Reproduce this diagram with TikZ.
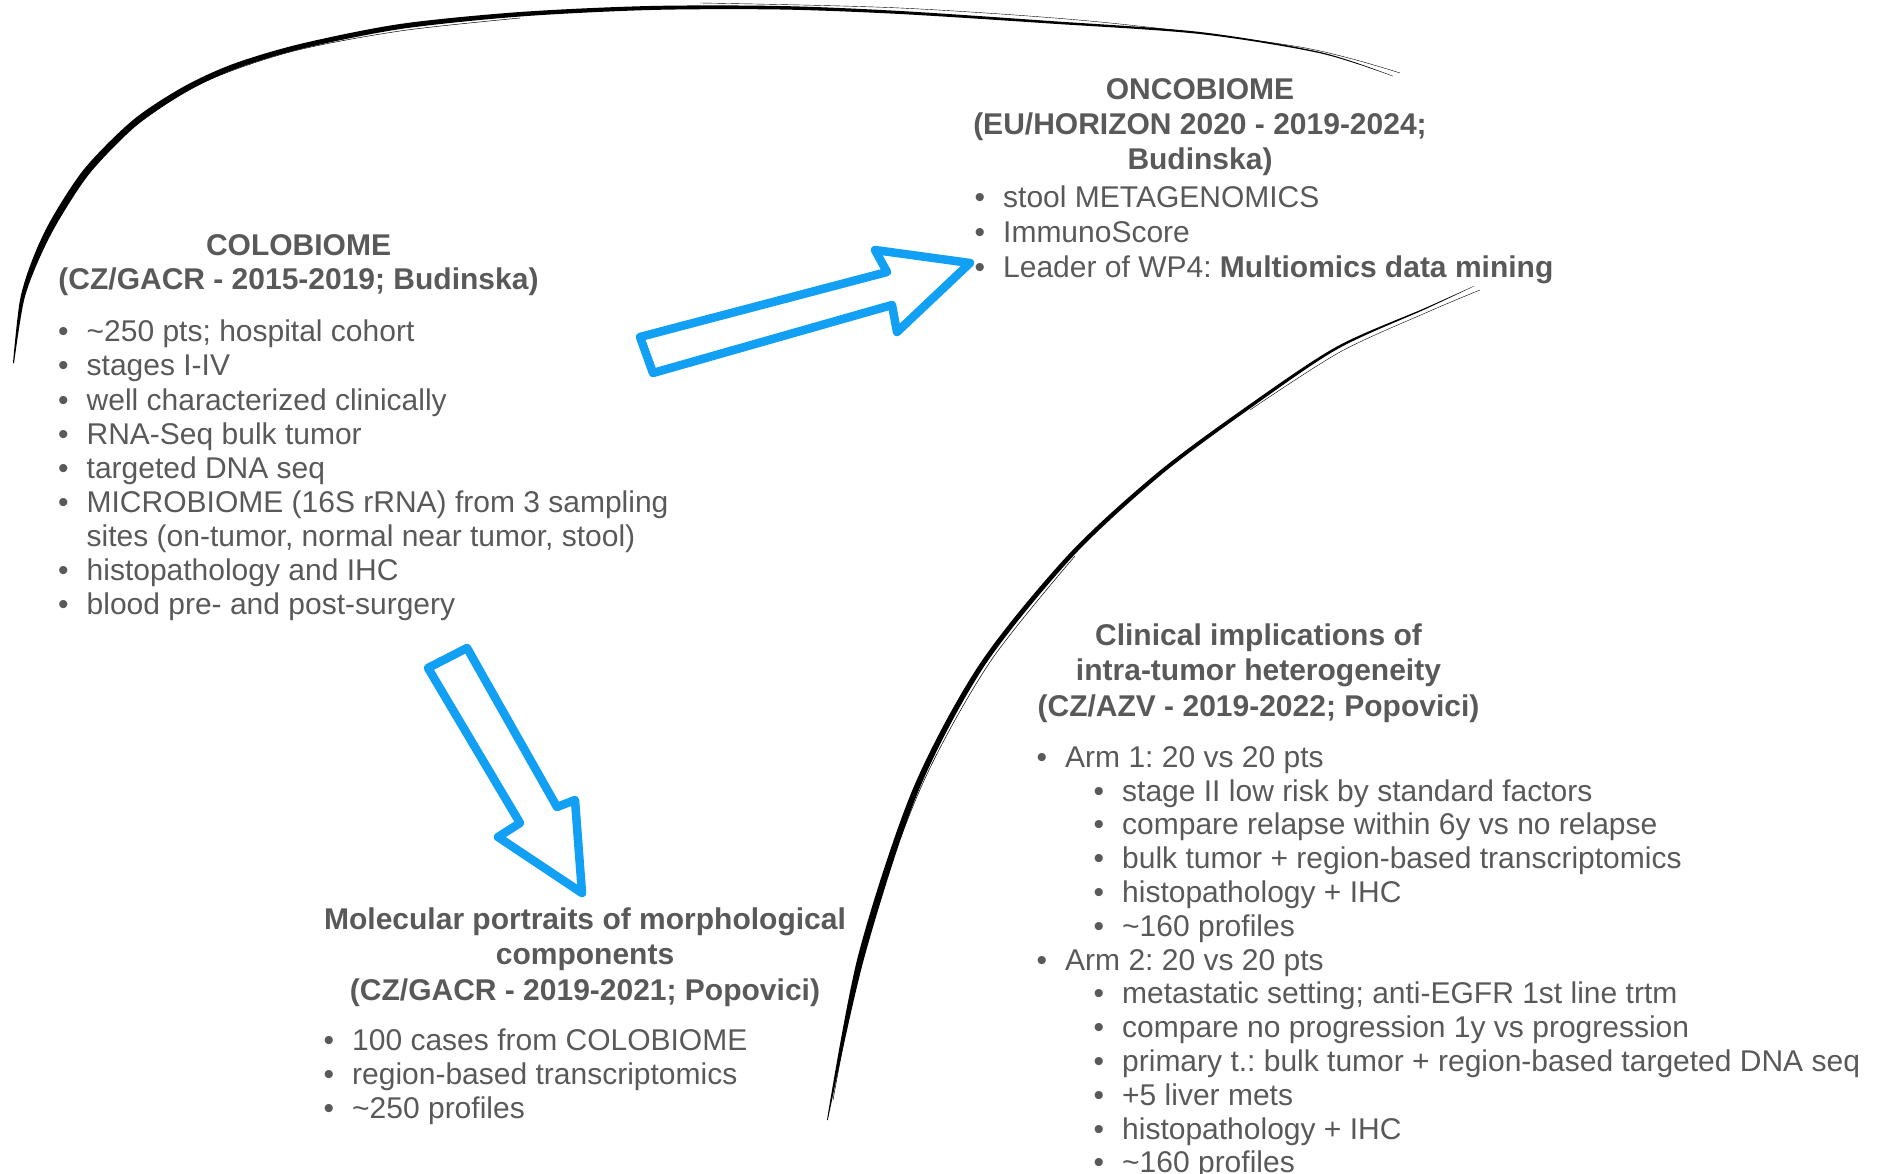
\documentclass[tikz,border=0pt]{standalone}
\usepackage{fontspec}
\setmainfont{Liberation Sans}
\usetikzlibrary{decorations.pathmorphing}
\definecolor{txt}{RGB}{89,89,89}
\definecolor{sky}{RGB}{18,160,245}
\newcommand\bl{\makebox[0pt][r]{\textbullet\hspace{18pt}}}
\newcommand\tld{\textasciitilde}
\frenchspacing
\tikzset{
  ln/.style={anchor=base west, inner sep=0pt, text=txt, font=\fontsize{30}{34}\selectfont},
  ttl/.style={anchor=base, inner sep=0pt, text=txt, font=\bfseries\fontsize{30}{34}\selectfont},
  brush/.style={fill=black},
  sketch/.style={draw=sky, line width=8.5pt, line join=round, line cap=round},
  sketchedge/.style={draw=sky, line width=2.5pt, line join=round, opacity=0.8,
    decorate, decoration={random steps, segment length=3pt, amplitude=3pt}},
}
\begin{document}
\begin{tikzpicture}[x=1pt, y=-1pt]
\useasboundingbox (0,0) rectangle (1883,1174);
\clip (0,0) rectangle (1883,1174);
\pgfmathsetseed{7}

% upper-left brush stroke
\fill[brush] plot[smooth] coordinates {(13,363) (20,300) (33,258) (52,218) (85,168) (133,120) (183,87) (233,64) (300,44) (400,24) (520,12) (650,6) (780,6) (900,11) (1050,21) (1200,32) (1320,52) (1393,76)}
  -- plot[smooth] coordinates {(1392.9,76.3) (1319.7,53.2) (1199.8,34) (1049.8,23.5) (899.8,14) (779.9,9.5) (650.1,10) (520.3,16.5) (400.7,29) (301.2,48.9) (234.9,69.2) (185.9,92.2) (137.1,125) (90.4,172.5) (58.1,221.5) (38.6,260.2) (23.9,300.7) (14,363.1)} -- cycle;
\draw[black, line width=0.5pt] plot[smooth] coordinates {(16,340) (26,285) (45,236) (80,180) (130,130) (200,84) (290,52) (400,31) (520,18)};
\draw[black, line width=0.4pt] plot[smooth] coordinates {(700,3) (900,8) (1100,22) (1300,47) (1400,73)};

% lower-right brush stroke
\fill[brush] plot[smooth] coordinates {(827,1120) (858,956) (912,791) (979,665) (1068,555) (1157,473) (1246,407) (1336,347) (1425,308) (1474,286)}
  -- plot[smooth] coordinates {(1474.1,286.2) (1425.5,309.1) (1337.2,349.2) (1248,409.9) (1159.6,476.1) (1071.3,558.1) (983.2,667.8) (917.5,793.3) (864.3,957.6) (827.8,1120.1)} -- cycle;
\draw[black, line width=0.5pt] plot[smooth] coordinates {(833,1100) (866,940) (922,785) (990,662) (1075,556)};
\draw[black, line width=0.4pt] plot[smooth] coordinates {(1250,410) (1340,352) (1430,311) (1480,290)};

% hand-drawn block arrows
\coordinate (a1t1) at (640,337); \coordinate (a1n1) at (887,272); \coordinate (a1b1) at (875,250);
\coordinate (a1tip) at (970,263); \coordinate (a1b2) at (897,332); \coordinate (a1n2) at (892,305);
\coordinate (a1t2) at (653,373);
\draw[sketch] (a1t1) -- (a1n1) -- (a1b1) -- (a1tip) -- (a1b2) -- (a1n2) -- (a1t2) -- cycle;
\foreach \s in {1,2,3}{
  \pgfmathsetseed{\s*11}
  \draw[sketchedge] (a1t1) -- (a1n1) -- (a1b1) -- (a1tip) -- (a1b2) -- (a1n2) -- (a1t2) -- cycle;
}

\coordinate (a2t1) at (428,668); \coordinate (a2t2) at (467,648); \coordinate (a2n1) at (557,807);
\coordinate (a2b1) at (575,800); \coordinate (a2tip) at (582,893); \coordinate (a2b2) at (498,837);
\coordinate (a2n2) at (520,823);
\draw[sketch] (a2t1) -- (a2t2) -- (a2n1) -- (a2b1) -- (a2tip) -- (a2b2) -- (a2n2) -- cycle;
\foreach \s in {4,5,6}{
  \pgfmathsetseed{\s*13}
  \draw[sketchedge] (a2t1) -- (a2t2) -- (a2n1) -- (a2b1) -- (a2tip) -- (a2b2) -- (a2n2) -- cycle;
}

% COLOBIOME
\node[ttl] (colT1) at (298.5,256) {COLOBIOME};
\node[ttl] (colT2) at (298.5,290) {(CZ/GACR - 2015-2019; Budinska)};
\node[ln] (col1) at (86.5,342) {\bl\tld250 pts; hospital cohort};
\node[ln] (col2) at (86.5,376) {\bl stages I-IV};
\node[ln] (col3) at (86.5,410) {\bl well characterized clinically};
\node[ln] (col4) at (86.5,444) {\bl RNA-Seq bulk tumor};
\node[ln] (col5) at (86.5,478) {\bl targeted DNA seq};
\node[ln] (col6) at (86.5,512) {\bl MICROBIOME (16S rRNA) from 3 sampling};
\node[ln] (col7) at (86.5,546) {sites (on-tumor, normal near tumor, stool)};
\node[ln] (col8) at (86.5,580) {\bl histopathology and IHC};
\node[ln] (col9) at (86.5,614) {\bl blood pre- and post-surgery};

% ONCOBIOME
\node[ttl] (oncT1) at (1200,100) {ONCOBIOME};
\node[ttl] (oncT2) at (1200,135) {(EU/HORIZON 2020 - 2019-2024;};
\node[ttl] (oncT3) at (1200,170) {Budinska)};
\node[ln] (onc1) at (1003,208) {\bl stool METAGENOMICS};
\node[ln] (onc2) at (1003,243) {\bl ImmunoScore};
\node[ln] (onc3) at (1003,278) {\bl Leader of WP4: \textbf{Multiomics data mining}};

% Molecular portraits
\node[ttl] (molT1) at (585,929) {Molecular portraits of morphological};
\node[ttl] (molT2) at (585,964) {components};
\node[ttl] (molT3) at (585,1000) {(CZ/GACR - 2019-2021; Popovici)};
\node[ln] (mol1) at (352,1050) {\bl 100 cases from COLOBIOME};
\node[ln] (mol2) at (352,1084) {\bl region-based transcriptomics};
\node[ln] (mol3) at (352,1118) {\bl\tld250 profiles};

% Clinical implications
\node[ttl] (cliT1) at (1258.5,645) {Clinical implications of};
\node[ttl] (cliT2) at (1258.5,680) {intra-tumor heterogeneity};
\node[ttl] (cliT3) at (1258.5,716) {(CZ/AZV - 2019-2022; Popovici)};
\node[ln] (cli1) at (1065,767) {\bl Arm 1: 20 vs 20 pts};
\node[ln] (cli2) at (1122,801) {\bl stage II low risk by standard factors};
\node[ln] (cli3) at (1122,834) {\bl compare relapse within 6y vs no relapse};
\node[ln] (cli4) at (1122,868) {\bl bulk tumor + region-based transcriptomics};
\node[ln] (cli5) at (1122,902) {\bl histopathology + IHC};
\node[ln] (cli6) at (1122,936) {\bl\tld160 profiles};
\node[ln] (cli7) at (1065,970) {\bl Arm 2: 20 vs 20 pts};
\node[ln] (cli8) at (1122,1003) {\bl metastatic setting; anti-EGFR 1st line trtm};
\node[ln] (cli9) at (1122,1037) {\bl compare no progression 1y vs progression};
\node[ln] (cli10) at (1122,1071) {\bl primary t.: bulk tumor + region-based targeted DNA seq};
\node[ln] (cli11) at (1122,1105) {\bl +5 liver mets};
\node[ln] (cli12) at (1122,1139) {\bl histopathology + IHC};
\node[ln] (cli13) at (1122,1172) {\bl\tld160 profiles};
\end{tikzpicture}
\end{document}
